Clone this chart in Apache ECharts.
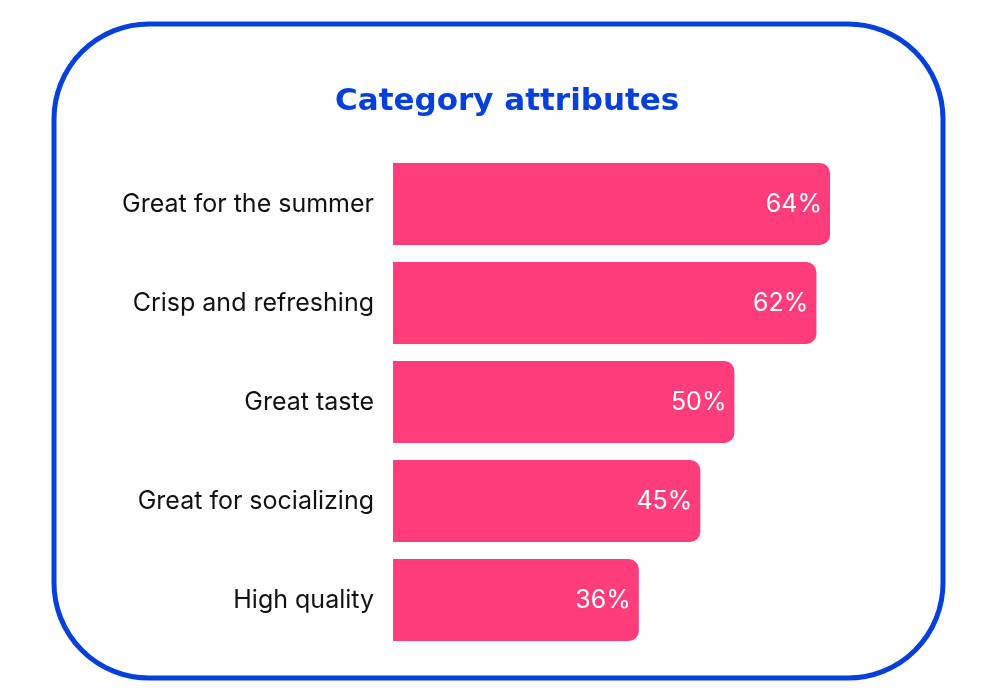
<!DOCTYPE html>
<html><head><meta charset="utf-8">
<script src="https://cdn.jsdelivr.net/npm/echarts@6/dist/echarts.min.js"></script>
<style>html,body{margin:0;padding:0;background:#fff}#c{width:984px;height:696px}</style>
</head><body><div id="c"></div>
<script>
const categories = ["Great for the summer", "Crisp and refreshing", "Great taste", "Great for socializing", "High quality"];
const values = [64, 62, 50, 45, 36];
const titleText = "Category attributes";

const chart = echarts.init(document.getElementById('c'), null, {renderer: 'canvas'});
chart.setOption({
  animation: false,
  backgroundColor: '#ffffff',
  title: {
    text: titleText, left: 330, top: 81,
    textStyle: {color: '#0540DC', fontFamily: 'DejaVu Sans', fontWeight: 'bold', fontSize: 31}
  },
  graphic: [{
    type: 'rect', left: 51.5, top: 21.5, silent: true,
    shape: {width: 889, height: 654, r: 95},
    style: {fill: 'none', stroke: '#0540DC', lineWidth: 5}
  }],
  grid: {left: 393, right: 113, top: 154.5, bottom: 46.5, containLabel: false},
  xAxis: {type: 'value', min: 0, max: 70, show: false},
  yAxis: {
    type: 'category', data: categories, inverse: true,
    axisLine: {show: false}, axisTick: {show: false},
    axisLabel: {color: '#111111', fontFamily: 'Inter', fontSize: 25, margin: 19}
  },
  series: [{
    type: 'bar', data: values, barWidth: 82,
    itemStyle: {color: '#FF3D7A', borderRadius: [0, 10, 10, 0]},
    label: {
      show: true, position: 'insideRight', distance: 8,
      formatter: '{c}%', color: '#ffffff', fontFamily: 'Inter', fontSize: 25
    }
  }]
});
</script></body></html>
